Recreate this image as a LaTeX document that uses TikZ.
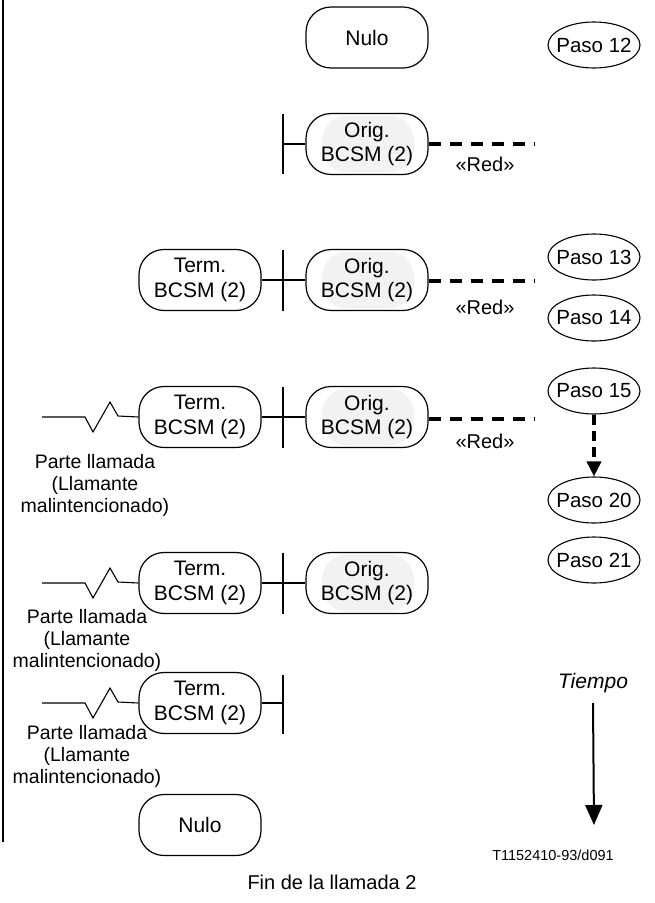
\documentclass[tikz,border=0pt]{standalone}
\usepackage{fontspec}
\setmainfont{Liberation Sans}
\usetikzlibrary{shapes.geometric,arrows.meta}
\begin{document}
\begin{tikzpicture}[x=1pt,y=-1pt,
  bcsm/.style={draw,line width=1.2pt,rounded corners=25pt,minimum width=122pt,minimum height=61pt,inner sep=0pt,align=center,font=\fontsize{21}{24.5}\selectfont},
  origbox/.style={bcsm,path picture={\fill[gray!10] ([xshift=16pt,yshift=-2pt]path picture bounding box.north west) rectangle ([xshift=-14pt,yshift=2pt]path picture bounding box.south east);}},
  paso/.style={draw,ellipse,line width=1.1pt,minimum width=92pt,minimum height=46pt,inner xsep=-5.5pt,inner ysep=0pt,font=\fontsize{20.5}{22}\selectfont},
  barline/.style={line width=2pt},
  link/.style={line width=1.2pt},
  netline/.style={line width=4pt,dash pattern=on 12pt off 9pt},
  lbl/.style={font=\fontsize{19.5}{22}\selectfont,align=center,inner sep=0pt},
  zig/.style={line width=1.1pt}]
\useasboundingbox (0,0) rectangle (655,903);
% left frame line
\coordinate (ft) at (3,0);
\coordinate (fb) at (3,842);
\draw[line width=2pt] (ft) -- (fb);

% top Nulo
\node[bcsm] (nulo1) at (367,37.5) {Nulo};
\node[paso] (p12) at (594,45) {Paso 12};

% row 1
\node[origbox] (o1) at (367,144) {Orig.\\BCSM (2)};
\coordinate (b1t) at (283,114); \coordinate (b1b) at (283,174);
\draw[barline] (b1t) -- (b1b);
\draw[link] (o1.west) -- (o1.west -| b1t);
\coordinate (r1) at (534,144);
\draw[netline] (o1.east) -- (r1);
\node[lbl,font=\fontsize{20}{22}\selectfont] (red1) at (485,164) {«Red»};

% row 2
\node[bcsm] (t2) at (200,280) {Term.\\BCSM (2)};
\node[origbox] (o2) at (367,280) {Orig.\\BCSM (2)};
\coordinate (b2t) at (283,250); \coordinate (b2b) at (283,311);
\draw[barline] (b2t) -- (b2b);
\draw[link] (t2.east) -- (o2.west);
\coordinate (r2) at (534,281);
\draw[netline] (o2.east |- r2) -- (r2);
\node[lbl,font=\fontsize{20}{22}\selectfont] (red2) at (485,307) {«Red»};
\node[paso] (p13) at (594,257) {Paso 13};
\node[paso] (p14) at (594,318) {Paso 14};

% row 3
\node[bcsm] (t3) at (200,417) {Term.\\BCSM (2)};
\node[origbox] (o3) at (367,417) {Orig.\\BCSM (2)};
\coordinate (b3t) at (283,387); \coordinate (b3b) at (283,448);
\draw[barline] (b3t) -- (b3b);
\draw[link] (t3.east) -- (o3.west);
\coordinate (r3) at (534,419);
\draw[netline] (o3.east |- r3) -- (r3);
\node[lbl,font=\fontsize{20}{22}\selectfont] (red3) at (485,441) {«Red»};
\coordinate (z3) at (42,417);
\draw[zig] (z3) -- ++(43,0) -- ++(8,15) -- ++(17,-30) -- ++(8,14) -- (t3.west);
\node[lbl] (pl3) at (95,485) {Parte llamada\\(Llamante\\malintencionado)};
\node[paso] (p15) at (594,391) {Paso 15};
\node[paso] (p20) at (594,500) {Paso 20};
\node[paso] (p21) at (594,560) {Paso 21};
\draw[line width=4pt,dash pattern=on 10pt off 6pt,-{Triangle[width=14pt,length=15pt]}] (p15.south) -- (p20.north);

% row 4
\node[bcsm] (t4) at (200,583) {Term.\\BCSM (2)};
\node[origbox] (o4) at (367,583) {Orig.\\BCSM (2)};
\coordinate (b4t) at (283,553); \coordinate (b4b) at (283,614);
\draw[barline] (b4t) -- (b4b);
\draw[link] (t4.east) -- (o4.west);
\coordinate (z4) at (42,583);
\draw[zig] (z4) -- ++(43,0) -- ++(8,15) -- ++(17,-30) -- ++(8,14) -- (t4.west);
\node[lbl] (pl4) at (87,640) {Parte llamada\\(Llamante\\malintencionado)};

% row 5
\node[bcsm] (t5) at (200,703) {Term.\\BCSM (2)};
\coordinate (b5t) at (283,675); \coordinate (b5b) at (283,734);
\draw[barline] (b5t) -- (b5b);
\draw[link] (t5.east) -- (t5.east -| b5t);
\coordinate (z5) at (42,703);
\draw[zig] (z5) -- ++(43,0) -- ++(8,15) -- ++(17,-30) -- ++(8,14) -- (t5.west);
\node[lbl] (pl5) at (87,756) {Parte llamada\\(Llamante\\malintencionado)};

% bottom Nulo
\node[bcsm] (nulo2) at (200,825) {Nulo};

% time arrow
\node[lbl,font=\fontsize{21}{22}\selectfont\itshape] (tiempo) at (593,683) {Tiempo};
\coordinate (tend) at (594,825);
\draw[line width=2pt,-{Triangle[width=17pt,length=20pt]}] ([yshift=-10pt]tiempo.south) -- (tend);
\node[lbl,font=\fontsize{14.5}{16}\selectfont] (ref) at (553,855) {T1152410-93/d091};

\node[lbl,font=\fontsize{20}{22}\selectfont] (fin) at (332,882) {Fin de la llamada 2};
\end{tikzpicture}
\end{document}
